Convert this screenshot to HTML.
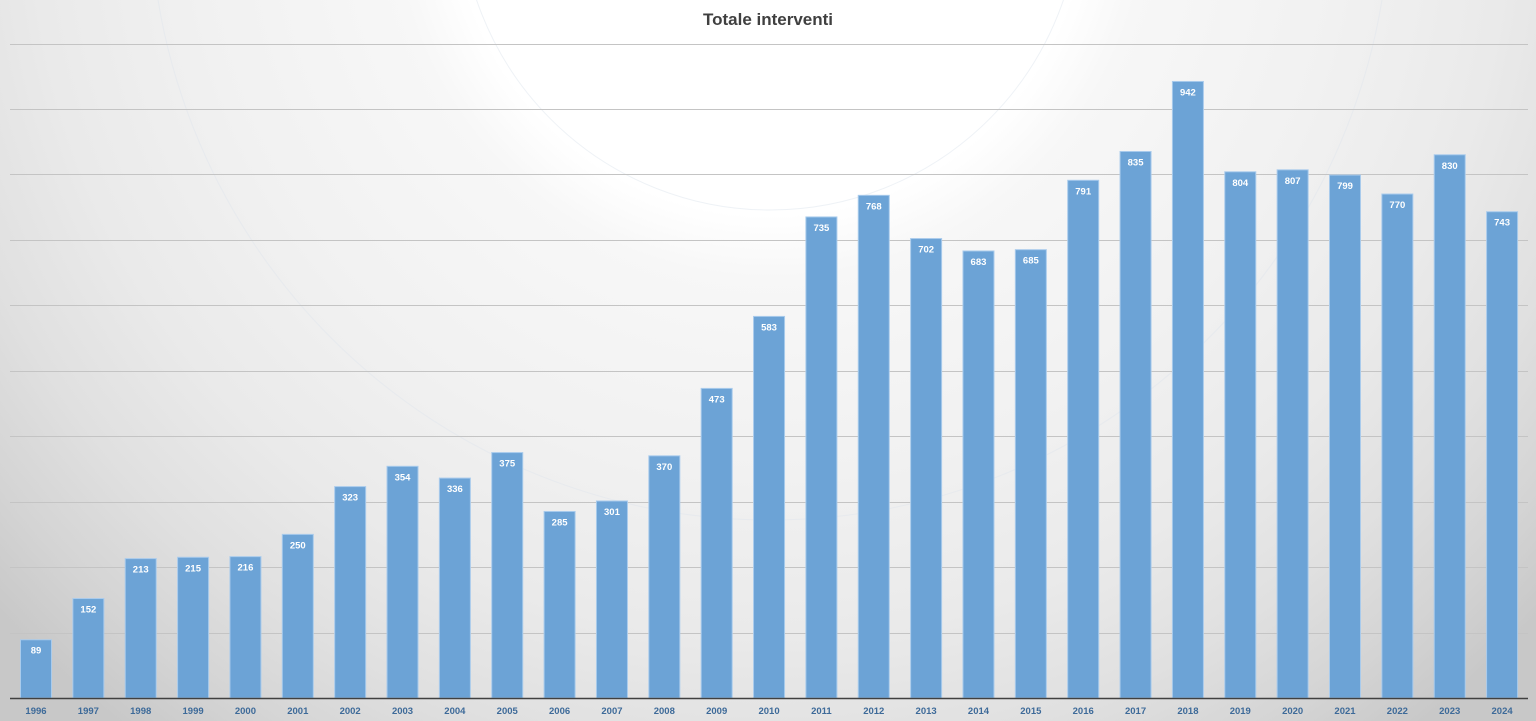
<!DOCTYPE html>
<html><head><meta charset="utf-8"><style>
html,body{margin:0;padding:0;width:1536px;height:721px;overflow:hidden}
body{position:relative;font-family:"Liberation Sans",sans-serif;
background:radial-gradient(circle 1050px at 770px -100px,#ffffff 0%,#ffffff 30%,#f7f7f7 36%,#f1f1f1 55%,#eaeaea 70%,#e0e0e0 82%,#d4d4d4 92%,#c8c8c8 100%);}
svg{display:block;position:absolute;left:0;top:0}
</style></head><body>
<svg width="1536" height="721" xmlns="http://www.w3.org/2000/svg">
<g stroke="#dfe6ee" stroke-width="1" fill="none" opacity="0.5">
<circle cx="770" cy="-100" r="310"/><circle cx="770" cy="-100" r="620"/>
</g>
<g id="grid" stroke="#c4c4c4" stroke-width="1"></g>
<g id="bars"></g>
<line x1="10" y1="698.5" x2="1528" y2="698.5" stroke="#404040" stroke-width="1.5"/>
<text x="768" y="25" text-anchor="middle" font-size="17" font-weight="bold" fill="#404040">Totale interventi</text>
</svg>
<script>
var vals=[89,152,213,215,216,250,323,354,336,375,285,301,370,473,583,735,768,702,683,685,791,835,942,804,807,799,770,830,743];
var ns="http://www.w3.org/2000/svg",g=document.getElementById('bars'),gr=document.getElementById('grid');
var base=698,sc=0.6545;
for(var k=1;k<=10;k++){var y=Math.round(base-k*100*sc)+0.5;var l=document.createElementNS(ns,'line');
l.setAttribute('x1',10);l.setAttribute('x2',1528);l.setAttribute('y1',y);l.setAttribute('y2',y);gr.appendChild(l);}
vals.forEach(function(v,i){var cx=36+i*52.36,h=v*sc,w=31;
var r=document.createElementNS(ns,'rect');r.setAttribute('x',cx-w/2);r.setAttribute('y',base-h);r.setAttribute('width',w);r.setAttribute('height',h);
r.setAttribute('fill','#6ca3d6');r.setAttribute('stroke','#a9cbec');r.setAttribute('stroke-width','1');g.appendChild(r);
var t=document.createElementNS(ns,'text');t.setAttribute('x',cx);t.setAttribute('y',base-h+14);t.setAttribute('text-anchor','middle');
t.setAttribute('font-size','9.5');t.setAttribute('font-weight','bold');t.setAttribute('fill','#fff');t.textContent=v;g.appendChild(t);
var y=document.createElementNS(ns,'text');y.setAttribute('x',cx);y.setAttribute('y',714);y.setAttribute('text-anchor','middle');
y.setAttribute('font-size','9.5');y.setAttribute('font-weight','bold');y.setAttribute('fill','#3d6a99');y.textContent=1996+i;g.appendChild(y);});
</script>
</body></html>
